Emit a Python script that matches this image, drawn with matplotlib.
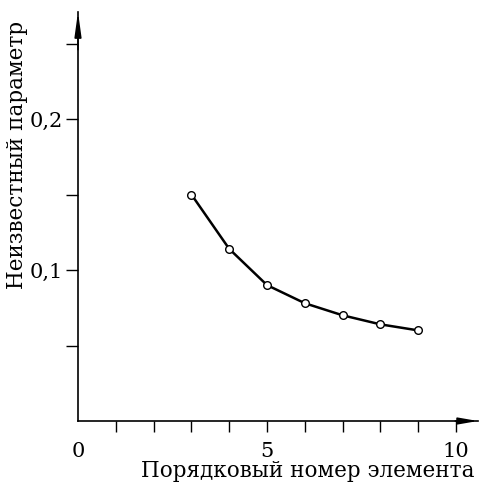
import matplotlib
matplotlib.use("Agg")
import matplotlib.pyplot as plt

x_vals = [3, 4, 5, 6, 7, 8, 9]
y_vals = [0.150, 0.114, 0.090, 0.078, 0.070, 0.064, 0.060]
x_ticks = [1, 2, 3, 4, 5, 6, 7, 8, 9, 10]
x_tick_labels = ["", "", "", "", "5", "", "", "", "", "10"]
y_ticks = [0.05, 0.10, 0.15, 0.20, 0.25]
y_tick_labels = ["", "0,1", "", "0,2", ""]
x_label = "Порядковый номер элемента"
y_label = "Неизвестный параметр"

W = H = 482
dpi = 100
fig = plt.figure(figsize=(W / dpi, H / dpi), dpi=dpi)
plt.rcParams['font.family'] = ['DejaVu Serif']

x0, y0 = 78, 421
ux, uy = 37.8, 1510.0
xmax, ymax = 10.58, 0.271
ax = fig.add_axes([x0 / W, (H - y0) / H, xmax * ux / W, ymax * uy / H])
ax.set_xlim(0, xmax)
ax.set_ylim(0, ymax)
for s in ["top", "right"]:
    ax.spines[s].set_visible(False)
for s in ["left", "bottom"]:
    ax.spines[s].set_linewidth(1.2)

ax.plot(x_vals, y_vals, color="black", lw=1.8, marker="o", ms=5.5,
        mfc="white", mec="black", mew=1.0, zorder=3)

ax.set_xticks(x_ticks)
ax.set_xticklabels(x_tick_labels)
ax.set_yticks(y_ticks)
ax.set_yticklabels(y_tick_labels)
ax.tick_params(axis="x", direction="out", length=8, width=1.0, pad=7, labelsize=15)
ax.tick_params(axis="y", direction="out", length=9, width=1.0, pad=2, labelsize=15)
ax.text(0, -0.075, "0", transform=ax.transAxes, ha="center", va="center", fontsize=15)

# arrows
ax.annotate("", xy=(xmax, 0), xytext=(xmax - 0.6, 0),
            arrowprops=dict(arrowstyle="-|>,head_length=1.15,head_width=0.2", color="black",
                            lw=1.2, shrinkA=0, shrinkB=0),
            annotation_clip=False)
ax.annotate("", xy=(0, ymax), xytext=(0, ymax - 0.025),
            arrowprops=dict(arrowstyle="-|>,head_length=1.45,head_width=0.2", color="black",
                            lw=1.2, shrinkA=0, shrinkB=0),
            annotation_clip=False)

fig.text(308 / W, 1 - 471 / H, x_label, ha="center", va="center", fontsize=15.5)
fig.text(17 / W, 1 - 155 / H, y_label, ha="center", va="center", rotation=90, fontsize=15.5)

fig.savefig("out.png", dpi=dpi)
